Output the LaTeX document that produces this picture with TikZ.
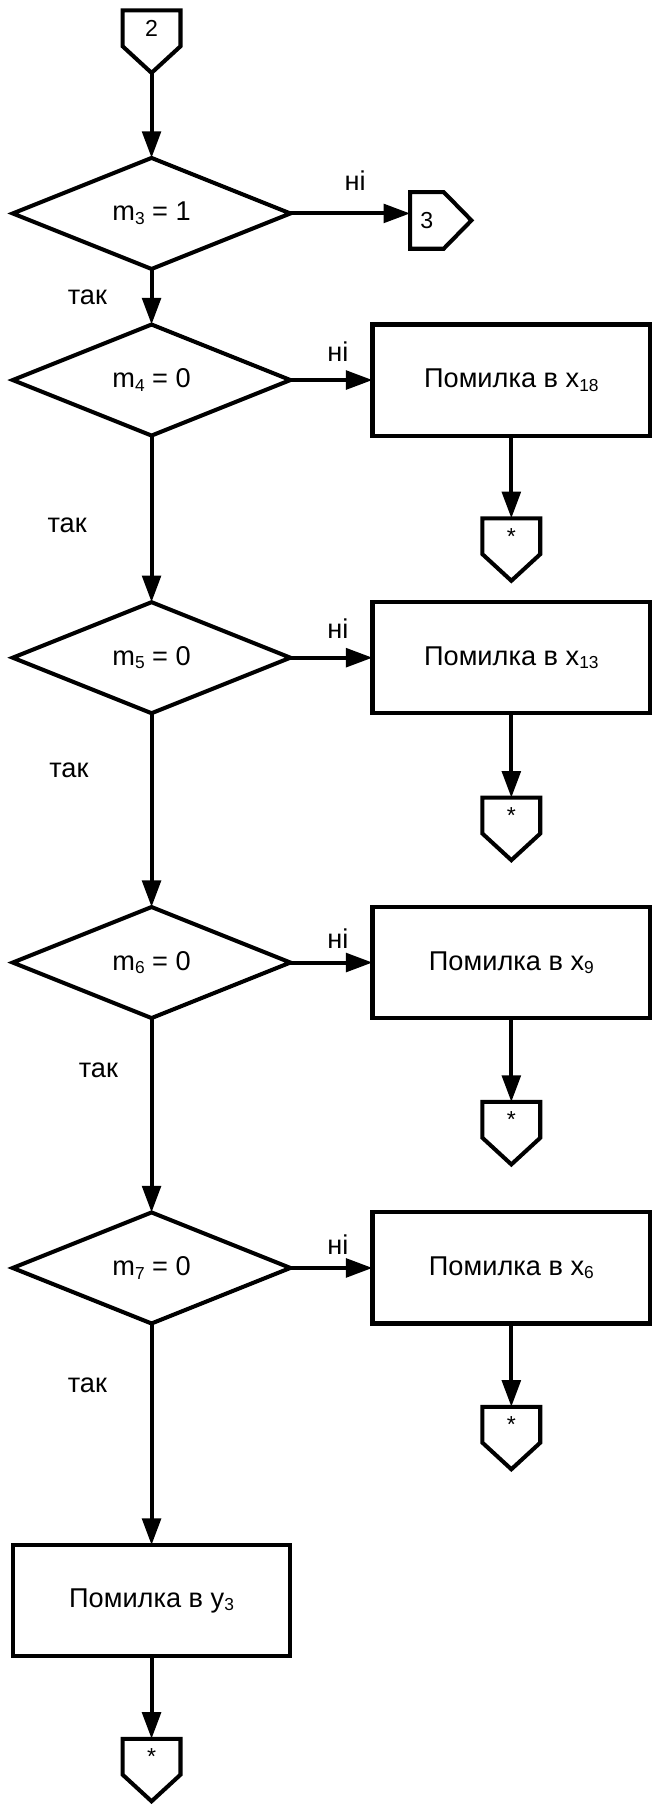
\documentclass[tikz,border=0pt]{standalone}
\usepackage{fontspec}
\setmainfont{Liberation Sans}
\usetikzlibrary{arrows.meta,shapes.geometric}
% lowered index written in a smaller size
\newcommand\lowidx[1]{\raisebox{-3pt}{\fontsize{15}{15}\selectfont #1}}

\begin{document}
\begin{tikzpicture}[x=1pt,y=-1pt,
  every node/.style={font=\fontsize{23.5}{27}\selectfont},
  lw/.style={line width=3.5pt, line join=miter},
  cond/.style={diamond, draw, lw, minimum width=240pt, minimum height=96pt,
    inner sep=0pt, outer sep=0pt},
  errbox/.style={rectangle, draw, lw, minimum width=240pt, minimum height=96pt,
    outer sep=0pt},
  flow/.style={line width=3.5pt, -{Triangle[length=23pt,width=16pt]}},
  lbl/.style={anchor=base, inner sep=0pt},
  offdown/.style={minimum width=50pt, minimum height=31pt, inner sep=0pt,
    outer sep=0pt, font=\fontsize{20}{22}\selectfont},
  offright/.style={minimum width=29pt, minimum height=49pt, inner sep=0pt,
    outer sep=0pt, font=\fontsize{20}{22}\selectfont}
]
\useasboundingbox (0,0) rectangle (571,1568);

% main column
\node[offdown] (c2) at (131,24.5) {2};
\node[cond] (d1) at (131,184.5) {m\lowidx{3} = 1};
\node[offright] (c3) at (369,190.5) {3};
\node[cond] (d2) at (131,328.5) {m\lowidx{4} = 0};
\node[cond] (d3) at (131,568.5) {m\lowidx{5} = 0};
\node[cond] (d4) at (131,832) {m\lowidx{6} = 0};
\node[cond] (d5) at (131,1096) {m\lowidx{7} = 0};
\node[errbox] (b5) at (131,1383.5) {Помилка в y\lowidx{3}};
\node[offdown] (s5) at (131,1518.5) {*};

% error branch
\node[errbox] (b1) at (442,328.5) {Помилка в x\lowidx{18}};
\node[errbox] (b2) at (442,568.5) {Помилка в x\lowidx{13}};
\node[errbox] (b3) at (442,832) {Помилка в x\lowidx{9}};
\node[errbox] (b4) at (442,1096) {Помилка в x\lowidx{6}};
\node[offdown] (s1) at (442,463.5) {*};
\node[offdown] (s2) at (442,705) {*};
\node[offdown] (s3) at (442,968) {*};
\node[offdown] (s4) at (442,1231.5) {*};

% off-page connector outlines
\foreach \n in {c2,s1,s2,s3,s4,s5}
  \draw[lw] (\n.south west) -- (\n.north west) -- (\n.north east)
    -- (\n.south east) -- ([yshift=-23pt]\n.south) -- cycle;
\draw[lw] (c3.south west) -- (c3.north west) -- (c3.north east)
  -- ([xshift=24pt]c3.east) -- (c3.south east) -- cycle;
\coordinate (c2tip) at ([yshift=-23pt]c2.south);

% connectors
\draw[flow] (c2tip) -- (d1.north);
\draw[flow] (d1.east) -- (d1.east -| c3.west);
\draw[flow] (d1.south) -- (d2.north);
\draw[flow] (d2.south) -- (d3.north);
\draw[flow] (d3.south) -- (d4.north);
\draw[flow] (d4.south) -- (d5.north);
\draw[flow] (d5.south) -- (b5.north);
\draw[flow] (b5.south) -- (s5.north);
\draw[flow] (d2.east) -- (b1.west);
\draw[flow] (d3.east) -- (b2.west);
\draw[flow] (d4.east) -- (b3.west);
\draw[flow] (d5.east) -- (b4.west);
\draw[flow] (b1.south) -- (s1.north);
\draw[flow] (b2.south) -- (s2.north);
\draw[flow] (b3.south) -- (s3.north);
\draw[flow] (b4.south) -- (s4.north);

% branch labels
\node[lbl] (n1) at (307,164.3) {ні};
\node[lbl] (n2) at (292,312.4) {ні};
\node[lbl] (n3) at (292,552.3) {ні};
\node[lbl] (n4) at (292,820) {ні};
\node[lbl] (n5) at (292,1084.1) {ні};
\node[lbl] (t1) at (75.5,263.5) {так};
\node[lbl] (t2) at (58,460.7) {так};
\node[lbl] (t3) at (59.5,672.4) {так};
\node[lbl] (t4) at (85,931.5) {так};
\node[lbl] (t5) at (75.5,1203.6) {так};
\end{tikzpicture}
\end{document}
